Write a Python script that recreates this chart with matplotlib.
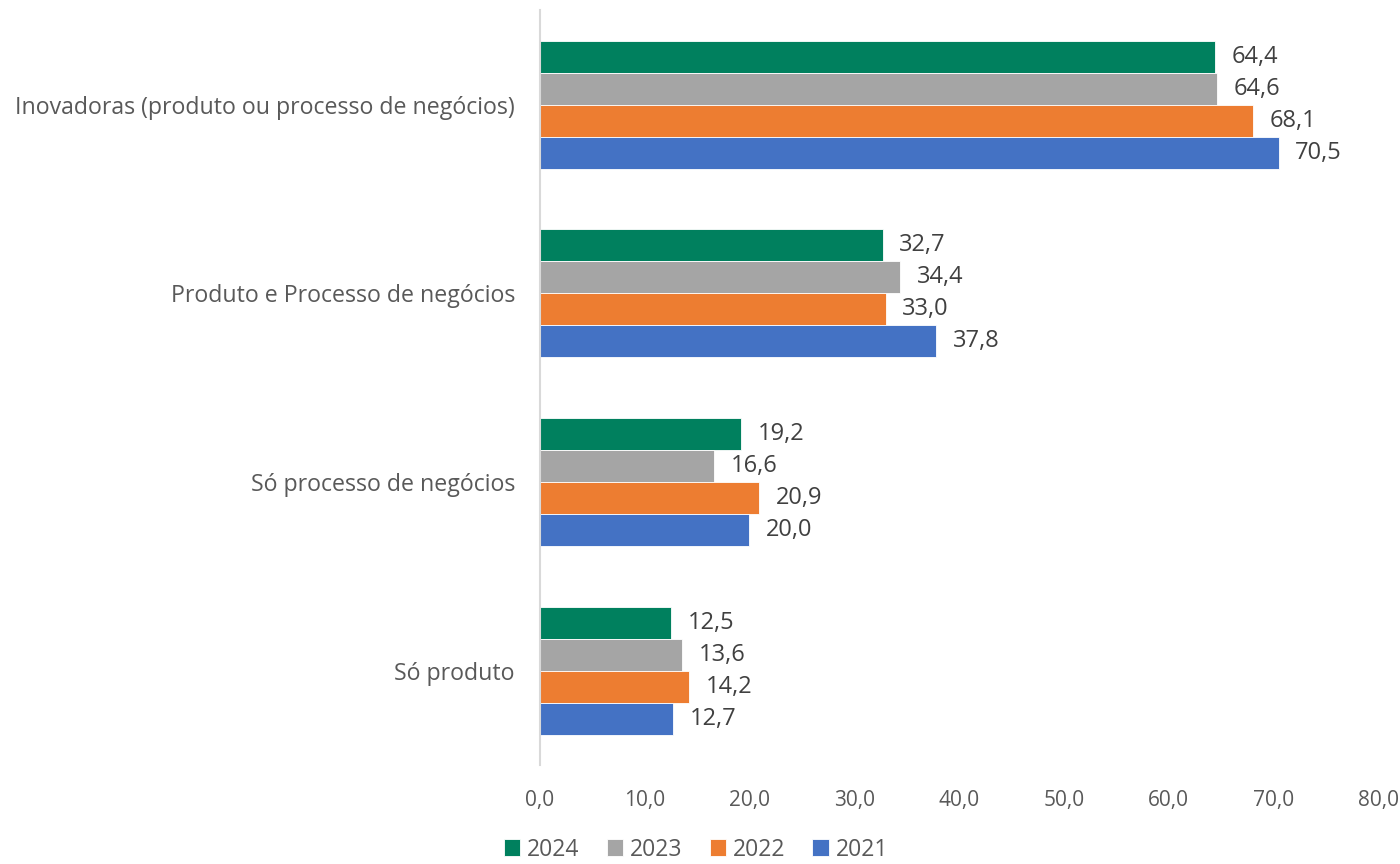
import matplotlib
matplotlib.use("Agg")
import matplotlib.pyplot as plt
import numpy as np

plt.rcParams['font.family'] = ['Open Sans', 'DejaVu Sans']

# categorias de baixo para cima
categorias = ["Só produto", "Só processo de negócios",
              "Produto e Processo de negócios",
              "Inovadoras (produto ou processo de negócios)"]
anos = ["2024", "2023", "2022", "2021"]
v2024 = [12.5, 19.2, 32.7, 64.4]
v2023 = [13.6, 16.6, 34.4, 64.6]
v2022 = [14.2, 20.9, 33.0, 68.1]
v2021 = [12.7, 20.0, 37.8, 70.5]
series = [v2024, v2023, v2022, v2021]
cores = ["#00805E", "#A5A5A5", "#ED7D31", "#4472C4"]
xticks = [0, 10, 20, 30, 40, 50, 60, 70, 80]

fig = plt.figure(figsize=(14, 8.64), dpi=100)
ax = fig.add_axes([0.3857, 0.1146, 0.5986, 0.8734])

y = np.arange(len(categorias))
h = 0.17
offsets = [1.5, 0.5, -0.5, -1.5]
for vals, cor, ano, off in zip(series, cores, anos, offsets):
    bars = ax.barh(y + off * h, vals, height=h, color=cor, label=ano,
                   edgecolor="white", linewidth=0.6)
    for b, v in zip(bars, vals):
        ax.annotate(f"{v:.1f}".replace(".", ","),
                    (b.get_width(), b.get_y() + b.get_height() / 2),
                    xytext=(12, 0), textcoords="offset points",
                    va="center", ha="left", fontsize=17, color="#404040")

ax.set_xlim(0, 80)
ax.set_ylim(-0.5, 3.5)
ax.set_xticks(xticks)
ax.set_xticklabels([f"{t:.1f}".replace(".", ",") for t in xticks],
                   fontsize=15, color="#595959")
ax.set_yticks(y)
ax.set_yticklabels(categorias, fontsize=16.7, color="#595959")
ax.tick_params(axis="both", length=0)
ax.tick_params(axis="x", pad=18)
ax.tick_params(axis="y", pad=18)
for s in ["top", "right", "bottom"]:
    ax.spines[s].set_visible(False)
ax.spines["left"].set_color("#D9D9D9")
ax.spines["left"].set_linewidth(1.5)

fig.legend(loc="lower center", bbox_to_anchor=(0.497, -0.021), ncol=4,
           frameon=False, fontsize=16.5, handlelength=0.7, handleheight=0.7,
           handletextpad=0.3, columnspacing=1.2, labelcolor="#595959")

fig.savefig("out.png", dpi=100)
